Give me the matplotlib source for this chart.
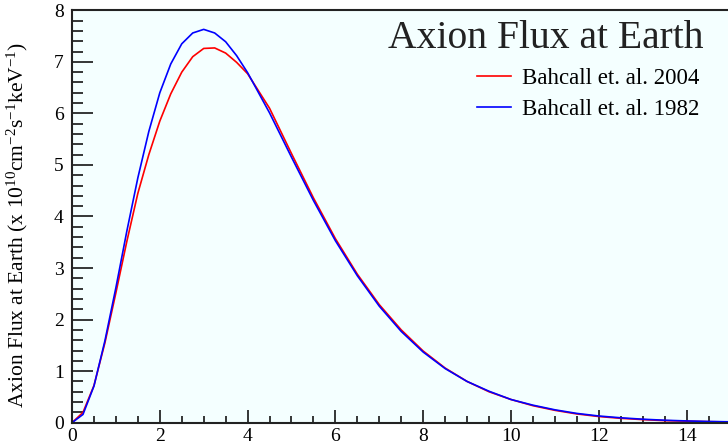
"""
plot.py
Axion flux at Earth - Bahcall 2004 vs 1982 solar model
"""

import matplotlib
matplotlib.use("Agg")
import matplotlib.pyplot as plt
from matplotlib.ticker import MultipleLocator

plt.rcParams['font.family'] = ['Liberation Serif', 'DejaVu Serif']
plt.rcParams['mathtext.fontset'] = 'custom'
plt.rcParams['mathtext.rm'] = 'Liberation Serif'
plt.rcParams['mathtext.it'] = 'Liberation Serif:italic'

# ===================== data =====================
energy = [0.0, 0.25, 0.5, 0.75, 1.0, 1.25, 1.5, 1.75, 2.0, 2.25, 2.5, 2.75,
          3.0, 3.25, 3.5, 3.75, 4.0, 4.5, 5.0, 5.5, 6.0, 6.5, 7.0, 7.5,
          8.0, 8.5, 9.0, 9.5, 10.0, 10.5, 11.0, 11.5, 12.0, 12.5, 13.0,
          13.5, 14.0, 14.5, 15.0]

flux_2004 = [0.0, 0.20, 0.72, 1.55, 2.52, 3.52, 4.45, 5.20, 5.85, 6.38, 6.80,
             7.10, 7.26, 7.27, 7.17, 6.99, 6.77, 6.10, 5.22, 4.36, 3.57, 2.88,
             2.29, 1.80, 1.39, 1.06, 0.80, 0.60, 0.45, 0.33, 0.24, 0.17, 0.12,
             0.085, 0.06, 0.04, 0.03, 0.02, 0.014]

flux_1982 = [0.0, 0.16, 0.71, 1.59, 2.62, 3.72, 4.75, 5.65, 6.40, 6.96, 7.35,
             7.56, 7.63, 7.56, 7.39, 7.12, 6.79, 6.01, 5.15, 4.31, 3.53, 2.85,
             2.26, 1.77, 1.37, 1.05, 0.80, 0.61, 0.45, 0.34, 0.25, 0.18, 0.13,
             0.095, 0.068, 0.048, 0.034, 0.024, 0.017]

labels = ["Bahcall et. al. 2004", "Bahcall et. al. 1982"]
colors = ["#ff0000", "#0000ff"]

W, H = 728, 444

fig = plt.figure(figsize=(W / 100, H / 100), dpi=100)
fig.patch.set_facecolor("white")

# axes: left edge at x=72px, x-axis at y=422.7px, top frame at y=10px
ax = fig.add_axes([72 / W, (H - 422.7) / H, (W - 72) / W, 412.4 / H])
ax.set_facecolor("#f4ffff")

ax.plot(energy, flux_2004, color=colors[0], lw=1.2, label=labels[0])
ax.plot(energy, flux_1982, color=colors[1], lw=1.2, label=labels[1])

ax.set_xlim(0, (W - 72) / 43.9)
ax.set_ylim(0, 8)

ax.xaxis.set_major_locator(MultipleLocator(2))
ax.xaxis.set_minor_locator(MultipleLocator(0.5))
ax.yaxis.set_major_locator(MultipleLocator(1))
ax.yaxis.set_minor_locator(MultipleLocator(0.2))

ax.tick_params(axis='x', which='major', direction='in', length=9.5, width=1.1,
               labelsize=14, pad=4, top=False)
ax.tick_params(axis='x', which='minor', direction='in', length=5, width=1.1, top=False)
ax.tick_params(axis='y', which='major', direction='in', length=15, width=1.1,
               labelsize=14, pad=6, right=False)
ax.tick_params(axis='y', which='minor', direction='in', length=8, width=1.1, right=False)

for side in ['left', 'bottom', 'top']:
    ax.spines[side].set_linewidth(1.5)
    ax.spines[side].set_color('#222222')
ax.spines['right'].set_visible(False)

fig.text(17 / W, 1 - 225 / H,
         r'Axion Flux at Earth (x 10$^{10}$cm$^{-2}$s$^{-1}$keV$^{-1}$)',
         rotation=90, ha='center', va='center', fontsize=15.5)

ax.text((703 - 72) / (W - 72), 1 - (38 - 10) / 412.4, "Axion Flux at Earth",
        transform=ax.transAxes, ha='right', va='center', fontsize=28.5,
        color='#222222')

ax.legend(loc='upper left', bbox_to_anchor=((477 - 72) / (W - 72), (422.7 - 68) / 412.4),
          frameon=False, fontsize=16.5, handlelength=1.5, handletextpad=0.45,
          labelspacing=0.45, borderpad=0, borderaxespad=0)

plt.savefig("out.png", dpi=100)
